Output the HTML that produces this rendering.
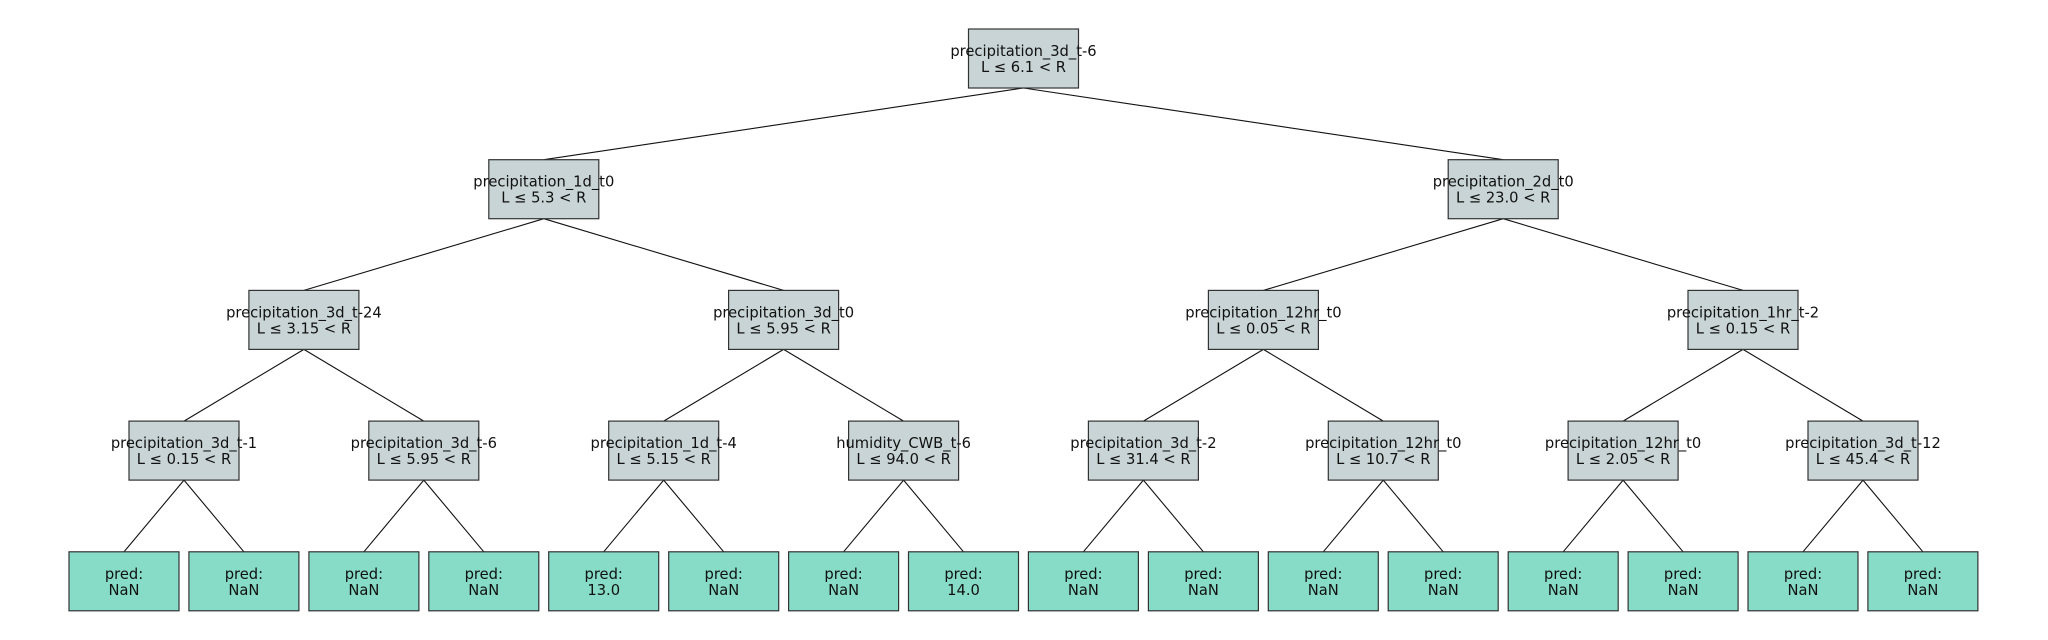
<!DOCTYPE html>
<html><head><meta charset="utf-8"><style>
html,body{margin:0;padding:0;background:#fff;width:2048px;height:640px;overflow:hidden}
text{font-family:"DejaVu Sans","Liberation Sans",sans-serif;font-size:14.7px;fill:#111;text-anchor:middle}
</style></head><body>
<svg width="2048" height="640" viewBox="0 0 2048 640" xmlns="http://www.w3.org/2000/svg">
<g stroke="#111" stroke-width="1.1" fill="none">
<line x1="1023.5" y1="88" x2="543.8" y2="159.7"/><line x1="1023.5" y1="88" x2="1503.2" y2="159.7"/>
<line x1="543.8" y1="218.7" x2="303.9" y2="290.4"/><line x1="543.8" y1="218.7" x2="783.6" y2="290.4"/>
<line x1="1503.2" y1="218.7" x2="1263.4" y2="290.4"/><line x1="1503.2" y1="218.7" x2="1743" y2="290.4"/>
<line x1="303.9" y1="349.4" x2="184" y2="421.1"/><line x1="303.9" y1="349.4" x2="423.8" y2="421.1"/>
<line x1="783.6" y1="349.4" x2="663.7" y2="421.1"/><line x1="783.6" y1="349.4" x2="903.6" y2="421.1"/>
<line x1="1263.4" y1="349.4" x2="1143.4" y2="421.1"/><line x1="1263.4" y1="349.4" x2="1383.3" y2="421.1"/>
<line x1="1743" y1="349.4" x2="1623.1" y2="421.1"/><line x1="1743" y1="349.4" x2="1863" y2="421.1"/>
<line x1="184" y1="480.1" x2="124" y2="551.8"/><line x1="184" y1="480.1" x2="243.9" y2="551.8"/>
<line x1="423.8" y1="480.1" x2="363.9" y2="551.8"/><line x1="423.8" y1="480.1" x2="483.8" y2="551.8"/>
<line x1="663.7" y1="480.1" x2="603.7" y2="551.8"/><line x1="663.7" y1="480.1" x2="723.7" y2="551.8"/>
<line x1="903.6" y1="480.1" x2="843.6" y2="551.8"/><line x1="903.6" y1="480.1" x2="963.5" y2="551.8"/>
<line x1="1143.4" y1="480.1" x2="1083.4" y2="551.8"/><line x1="1143.4" y1="480.1" x2="1203.4" y2="551.8"/>
<line x1="1383.3" y1="480.1" x2="1323.3" y2="551.8"/><line x1="1383.3" y1="480.1" x2="1443.2" y2="551.8"/>
<line x1="1623.1" y1="480.1" x2="1563.2" y2="551.8"/><line x1="1623.1" y1="480.1" x2="1683.1" y2="551.8"/>
<line x1="1863" y1="480.1" x2="1803" y2="551.8"/><line x1="1863" y1="480.1" x2="1922.9" y2="551.8"/>
</g>
<g stroke="#333" stroke-width="1.2" fill="#c8d4d5">
<rect x="968.5" y="29" width="110" height="59"/>
<rect x="488.8" y="159.7" width="110" height="59"/><rect x="1448.2" y="159.7" width="110" height="59"/>
<rect x="248.9" y="290.4" width="110" height="59"/><rect x="728.6" y="290.4" width="110" height="59"/>
<rect x="1208.4" y="290.4" width="110" height="59"/><rect x="1688" y="290.4" width="110" height="59"/>
<rect x="129" y="421.1" width="110" height="59"/><rect x="368.8" y="421.1" width="110" height="59"/>
<rect x="608.7" y="421.1" width="110" height="59"/><rect x="848.6" y="421.1" width="110" height="59"/>
<rect x="1088.4" y="421.1" width="110" height="59"/><rect x="1328.3" y="421.1" width="110" height="59"/>
<rect x="1568.1" y="421.1" width="110" height="59"/><rect x="1808" y="421.1" width="110" height="59"/>
</g>
<g stroke="#333" stroke-width="1.2" fill="#86dcc6">
<rect x="69" y="551.8" width="110" height="59"/><rect x="188.9" y="551.8" width="110" height="59"/>
<rect x="308.9" y="551.8" width="110" height="59"/><rect x="428.8" y="551.8" width="110" height="59"/>
<rect x="548.7" y="551.8" width="110" height="59"/><rect x="668.7" y="551.8" width="110" height="59"/>
<rect x="788.6" y="551.8" width="110" height="59"/><rect x="908.5" y="551.8" width="110" height="59"/>
<rect x="1028.4" y="551.8" width="110" height="59"/><rect x="1148.4" y="551.8" width="110" height="59"/>
<rect x="1268.3" y="551.8" width="110" height="59"/><rect x="1388.2" y="551.8" width="110" height="59"/>
<rect x="1508.2" y="551.8" width="110" height="59"/><rect x="1628.1" y="551.8" width="110" height="59"/>
<rect x="1748" y="551.8" width="110" height="59"/><rect x="1867.9" y="551.8" width="110" height="59"/>
</g>
<text x="1023.5" y="56">precipitation_3d_t-6</text><text x="1023.5" y="72">L ≤ 6.1 &lt; R</text>
<text x="543.8" y="186.7">precipitation_1d_t0</text><text x="543.8" y="202.7">L ≤ 5.3 &lt; R</text>
<text x="1503.2" y="186.7">precipitation_2d_t0</text><text x="1503.2" y="202.7">L ≤ 23.0 &lt; R</text>
<text x="303.9" y="317.4">precipitation_3d_t-24</text><text x="303.9" y="333.4">L ≤ 3.15 &lt; R</text>
<text x="783.6" y="317.4">precipitation_3d_t0</text><text x="783.6" y="333.4">L ≤ 5.95 &lt; R</text>
<text x="1263.4" y="317.4">precipitation_12hr_t0</text><text x="1263.4" y="333.4">L ≤ 0.05 &lt; R</text>
<text x="1743" y="317.4">precipitation_1hr_t-2</text><text x="1743" y="333.4">L ≤ 0.15 &lt; R</text>
<text x="184" y="448.1">precipitation_3d_t-1</text><text x="184" y="464.1">L ≤ 0.15 &lt; R</text>
<text x="423.8" y="448.1">precipitation_3d_t-6</text><text x="423.8" y="464.1">L ≤ 5.95 &lt; R</text>
<text x="663.7" y="448.1">precipitation_1d_t-4</text><text x="663.7" y="464.1">L ≤ 5.15 &lt; R</text>
<text x="903.6" y="448.1">humidity_CWB_t-6</text><text x="903.6" y="464.1">L ≤ 94.0 &lt; R</text>
<text x="1143.4" y="448.1">precipitation_3d_t-2</text><text x="1143.4" y="464.1">L ≤ 31.4 &lt; R</text>
<text x="1383.3" y="448.1">precipitation_12hr_t0</text><text x="1383.3" y="464.1">L ≤ 10.7 &lt; R</text>
<text x="1623.1" y="448.1">precipitation_12hr_t0</text><text x="1623.1" y="464.1">L ≤ 2.05 &lt; R</text>
<text x="1863" y="448.1">precipitation_3d_t-12</text><text x="1863" y="464.1">L ≤ 45.4 &lt; R</text>
<g>
<text x="124" y="578.8">pred:</text><text x="124" y="594.8">NaN</text>
<text x="243.9" y="578.8">pred:</text><text x="243.9" y="594.8">NaN</text>
<text x="363.9" y="578.8">pred:</text><text x="363.9" y="594.8">NaN</text>
<text x="483.8" y="578.8">pred:</text><text x="483.8" y="594.8">NaN</text>
<text x="603.7" y="578.8">pred:</text><text x="603.7" y="594.8">13.0</text>
<text x="723.7" y="578.8">pred:</text><text x="723.7" y="594.8">NaN</text>
<text x="843.6" y="578.8">pred:</text><text x="843.6" y="594.8">NaN</text>
<text x="963.5" y="578.8">pred:</text><text x="963.5" y="594.8">14.0</text>
<text x="1083.4" y="578.8">pred:</text><text x="1083.4" y="594.8">NaN</text>
<text x="1203.4" y="578.8">pred:</text><text x="1203.4" y="594.8">NaN</text>
<text x="1323.3" y="578.8">pred:</text><text x="1323.3" y="594.8">NaN</text>
<text x="1443.2" y="578.8">pred:</text><text x="1443.2" y="594.8">NaN</text>
<text x="1563.2" y="578.8">pred:</text><text x="1563.2" y="594.8">NaN</text>
<text x="1683.1" y="578.8">pred:</text><text x="1683.1" y="594.8">NaN</text>
<text x="1803" y="578.8">pred:</text><text x="1803" y="594.8">NaN</text>
<text x="1922.9" y="578.8">pred:</text><text x="1922.9" y="594.8">NaN</text>
</g>
</svg>
</body></html>
